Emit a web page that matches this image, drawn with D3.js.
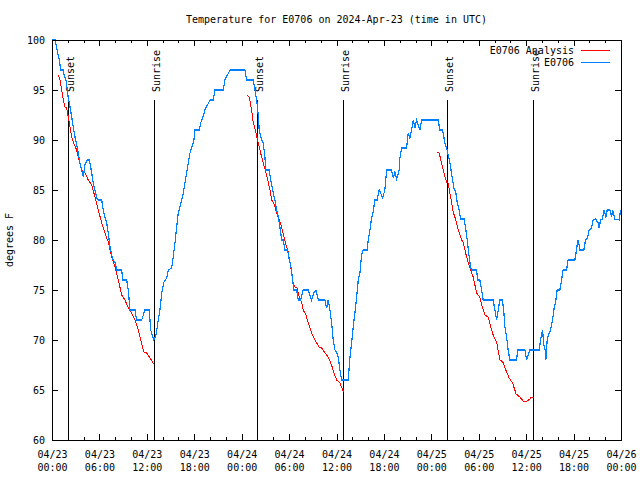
<!DOCTYPE html>
<html>
<head>
<meta charset="utf-8">
<script src="https://cdn.jsdelivr.net/npm/d3@7"></script>
<style>
  html, body { margin: 0; padding: 0; background: #fff; }
  svg { display: block; font-family: "DejaVu Sans Mono", "Liberation Mono", monospace; font-size: 10px; }
</style>
</head>
<body>
<svg id="chart" width="640" height="480"></svg>
<script>
// ---------------- DATA ----------------
const titleText = "Temperature for E0706 on 2024-Apr-23 (time in UTC)";
const yLabelText = "degrees F";
const seriesNames = ["E0706 Analysis", "E0706"];

// hours since 2024-04-23 00:00 UTC
const obsHours = [0,0.38,0.92,1.10,1.43,1.52,1.77,1.86,2.06,2.28,2.49,2.69,2.91,3.12,3.33,3.54,3.76,3.96,4.17,4.47,4.72,4.81,5.02,5.22,5.44,5.65,5.86,6.29,6.49,6.70,6.92,7.12,7.34,7.55,7.75,7.97,8.18,8.82,8.94,9.45,9.65,9.87,10.50,10.71,11.35,11.76,12.31,12.49,12.74,12.90,13.16,13.45,13.66,13.88,14.17,14.51,14.71,15.14,15.34,15.56,15.77,15.98,16.19,16.41,16.61,16.82,17.04,17.24,17.46,17.67,17.96,18.09,18.63,18.81,19.06,19.35,19.99,20.40,20.62,21.67,21.88,22.52,24.41,24.63,25.46,25.68,25.90,26.10,26.22,26.53,26.73,26.94,27.07,27.49,27.67,27.92,28.00,28.21,28.43,28.63,28.84,29.06,29.26,29.48,29.82,30.02,30.20,30.45,30.61,30.96,31.16,31.46,31.79,32.42,32.85,33.14,33.40,33.69,34.54,34.75,34.95,35.17,35.38,35.59,35.80,36.02,36.22,36.43,36.65,37.48,37.70,37.91,38.11,38.33,38.55,38.75,38.96,39.18,39.38,39.89,40.01,40.23,40.44,40.64,40.86,41.15,41.40,41.58,41.83,42.12,42.34,42.97,43.18,43.39,43.61,43.93,44.02,44.24,44.87,45.07,45.29,45.50,45.71,45.92,46.14,46.34,46.55,46.77,48.87,49.08,49.42,49.72,49.93,50.13,50.35,50.69,50.85,51.11,51.27,51.52,51.70,52.16,52.37,52.54,52.79,52.97,53.09,53.73,53.85,54.14,54.36,54.56,55.83,56.04,56.26,56.46,56.67,57.01,57.18,57.31,57.52,57.72,57.94,58.79,58.91,59.84,60.05,60.25,60.47,61.64,61.82,62.07,62.24,62.40,62.49,62.66,62.83,63.09,63.34,63.50,63.76,63.92,64.26,64.48,64.68,65.11,65.31,66.16,66.37,66.54,66.70,66.79,67.30,67.51,67.77,67.97,68.27,68.48,68.78,69.11,69.24,69.41,69.66,69.83,69.96,70.08,70.25,70.59,70.81,70.93,71.22,71.77,71.95];
const obsTemps = [100,100,98,97,97,96.5,96,95.5,94.2,93.3,92.3,91.3,90.3,89.5,88.7,87.7,87,86.3,87.5,88,88,87.7,86.7,85.7,85,84.2,84,84,83,82.3,81.7,80.7,79.3,78.5,78,77.8,77,77,76,76,75,73,73,72,72,73,73,71,70.3,70,70.5,72,73,74.7,75.8,76.2,77,77.2,78.3,79.7,81.3,82.7,83.3,84,84.7,85.7,86.7,87.7,88.7,89.2,90,91,91,91.7,92.2,93,94,94,95,95,96,97,97,96,96,95,94,92.5,91,90,89.7,88.3,87,87,86,85,84.7,84,83,82.3,81.3,80,80,79,79,78,77.5,76,75,75,74,74,75,75,74,74.7,75,74,74,73.2,74,73,71.7,70,69,68.8,68.3,67,66,66,68.2,69.7,71.3,72.7,74.3,76,76.7,78.5,79,79,80,81,82.2,82.8,84,84,85,84.7,84.2,85,87,87,86.2,86.8,86.1,87,88.2,89.2,89.2,90.7,90.2,91,92,91.2,92,91.5,91,92,92,91,91,89.7,89.2,88.5,87.7,86,85.2,84.7,83.8,83,82.1,82.1,81,80,78.3,77.3,77,77,76,76,75,74,74,73,72,73,74,74,72.7,71.3,70.3,69,68,68,69,69,68,68.5,69,69,70,71,69.5,69,68,70,70.5,71,72,73,74,75,75,76,77,77,78,78,79,80,79.5,79,79,80,80.2,81,81.2,82,82.1,81.7,81.2,82,82.1,83,82.7,82.2,83,83,82.3,83,82.1,82,83];

// analysis: null marks a break between segments
const analysisHours = [0.80,1.01,1.23,1.43,1.64,1.86,2.06,2.28,2.49,2.69,3.12,3.33,3.54,3.76,4.17,4.59,5.02,5.44,5.86,6.29,6.70,7.12,7.55,7.97,8.39,8.82,9.23,9.65,10.08,10.50,10.92,11.35,11.64,11.98,12.40,12.81,12.94,
  null,
  24.71,24.96,25.26,25.46,25.81,26.10,26.40,26.73,27.16,27.58,27.79,28.00,28.21,28.43,28.75,29.06,29.35,29.69,29.89,30.11,30.32,30.52,30.74,31.03,31.28,31.59,31.79,32.13,32.42,32.73,33.06,33.49,33.81,34.12,34.54,34.95,35.38,35.67,36.02,36.43,36.85,36.94,
  null,
  48.74,48.99,49.30,49.59,49.93,50.13,50.44,50.76,50.98,51.40,51.83,52.03,52.46,52.88,53.30,53.73,54.14,54.36,54.78,55.19,55.62,55.91,56.26,56.67,57.05,57.52,57.85,58.28,58.73,59.20,59.62,59.96,60.47,60.68,60.97];
const analysisTemps = [96.5,96,95,94,93.3,93.2,92.3,91.3,90.3,89.8,89,88.3,87.7,87,86.7,86,85.5,84.3,83,81.7,80.7,79.8,78.3,77.3,76,74.5,74,73.2,72.7,72,71,69.6,68.8,68.7,68.2,67.7,67.6,
  null,
  94.5,94.3,93,91.8,90.7,89.7,88.7,87.7,86.5,85,84,83.8,83.3,82.7,82,81.3,80.3,79.3,78.8,77.7,76.7,75.7,75.3,75.2,74.3,73.8,73,72.5,71.7,71,70.3,69.7,69.3,69.2,68.7,68.3,67.5,66.7,66,65.7,64.9,64.8,
  null,
  88.8,88.7,87.7,86.7,85.8,85.7,84.3,82.8,82.3,81,80,79.8,78.3,77.2,76.3,74.7,74.3,73.5,72.5,72.3,71,70.3,69.8,68,67.8,66.8,66.2,65.7,64.6,64.3,63.9,63.8,64.1,64.3,64.3];

const sunLabels = ["Sunset","Sunrise","Sunset","Sunrise","Sunset","Sunrise"];
const sunHours = [2.06,12.94,25.97,36.85,50.01,60.89];
const sunLineTop = 94;

const xTickHours = [0,6,12,18,24,30,36,42,48,54,60,66,72];
const xMinorHours = d3.range(0, 73, 2);
const yTicks = [60,65,70,75,80,85,90,95,100];

// ---------------- CHART ----------------
const t0 = Date.UTC(2024, 3, 23);
const toDate = h => new Date(t0 + h * 3600e3);

const L = 52, R = 621, T = 40, B = 440;
const svg = d3.select("#chart");

const x = d3.scaleUtc().domain([toDate(0), toDate(72)]).range([L, R]);
const y = d3.scaleLinear().domain([60, 100]).range([B, T]);

// title
svg.append("text").attr("x", (L + R) / 2).attr("y", 23)
  .attr("text-anchor", "middle").text(titleText);

// y label
svg.append("text").attr("transform", `translate(13,${(T + B) / 2}) rotate(-90)`)
  .attr("text-anchor", "middle").text(yLabelText);

function styleAxis(g) {
  g.select(".domain").remove();
  g.selectAll(".tick line").attr("stroke", "#000").attr("shape-rendering", "crispEdges");
  g.selectAll("text").attr("fill", "#000").style("font-family", "inherit").style("font-size", "10px");
  g.attr("font-family", null).attr("font-size", null);
}

// bottom major with labels
const fmtDay = d3.utcFormat("%m/%d"), fmtTime = d3.utcFormat("%H:%M");
const gx = svg.append("g").attr("transform", `translate(0,${B})`)
  .call(d3.axisBottom(x).tickValues(xTickHours.map(toDate)).tickSize(-6).tickPadding(8).tickFormat(d => ""))
  .call(styleAxis);
gx.selectAll(".tick text").attr("dy", null).attr("y", null).each(function(d) {
  const t = d3.select(this);
  t.append("tspan").attr("x", 0).attr("y", 18).text(fmtDay(d));
  t.append("tspan").attr("x", 0).attr("y", 31).text(fmtTime(d));
});
// bottom minor
svg.append("g").attr("transform", `translate(0,${B})`)
  .call(d3.axisBottom(x).tickValues(xMinorHours.filter(h => h % 6 !== 0).map(toDate)).tickSize(-3).tickFormat(""))
  .call(styleAxis);
// top mirrors
svg.append("g").attr("transform", `translate(0,${T})`)
  .call(d3.axisTop(x).tickValues(xTickHours.map(toDate)).tickSize(-6).tickFormat(""))
  .call(styleAxis);
svg.append("g").attr("transform", `translate(0,${T})`)
  .call(d3.axisTop(x).tickValues(xMinorHours.filter(h => h % 6 !== 0).map(toDate)).tickSize(-3).tickFormat(""))
  .call(styleAxis);
// left
svg.append("g").attr("transform", `translate(${L},0)`)
  .call(d3.axisLeft(y).tickValues(yTicks).tickSize(-6).tickPadding(7).tickFormat(d3.format("d")))
  .call(styleAxis);
// right
svg.append("g").attr("transform", `translate(${R},0)`)
  .call(d3.axisRight(y).tickValues(yTicks).tickSize(-6).tickFormat(""))
  .call(styleAxis);

// sun lines
sunHours.forEach((h, i) => {
  const xx = Math.round(x(toDate(h))) + 0.5;
  svg.append("line").attr("x1", xx).attr("x2", xx).attr("y1", y(sunLineTop)).attr("y2", B)
    .attr("stroke", "#000").attr("stroke-width", 1).attr("shape-rendering", "crispEdges");
  svg.append("text").attr("transform", `translate(${xx + 2},${y(sunLineTop) - 8}) rotate(-90)`)
    .attr("dominant-baseline", "central").attr("text-anchor", "start").text(sunLabels[i]);
});

// lines
const line = d3.line()
  .defined(d => d[0] !== null && d[1] !== null)
  .x(d => x(toDate(d[0]))).y(d => y(d[1]));

const analysisData = analysisHours.map((h, i) => [h, analysisTemps[i]]);
const obsData = obsHours.map((h, i) => [h, obsTemps[i]]);

svg.append("path").datum(analysisData).attr("d", line)
  .attr("fill", "none").attr("stroke", "#ff0000").attr("stroke-width", 1)
  .attr("shape-rendering", "crispEdges");
svg.append("path").datum(obsData).attr("d", line)
  .attr("fill", "none").attr("stroke", "#0080ff").attr("stroke-width", 1.2)
  .attr("shape-rendering", "crispEdges");

// border
svg.append("rect").attr("x", L + 0.5).attr("y", T + 0.5).attr("width", R - L).attr("height", B - T)
  .attr("fill", "none").attr("stroke", "#000").attr("shape-rendering", "crispEdges");

// legend
const legendColors = ["#ff0000", "#0080ff"];
seriesNames.forEach((n, i) => {
  const ly = 50 + i * 12;
  svg.append("text").attr("x", 574).attr("y", ly).attr("text-anchor", "end")
    .attr("dominant-baseline", "central").text(n);
  svg.append("line").attr("x1", 581).attr("x2", 610).attr("y1", ly + 0.5).attr("y2", ly + 0.5)
    .attr("stroke", legendColors[i]).attr("stroke-width", 1).attr("shape-rendering", "crispEdges");
});
</script>
</body>
</html>
